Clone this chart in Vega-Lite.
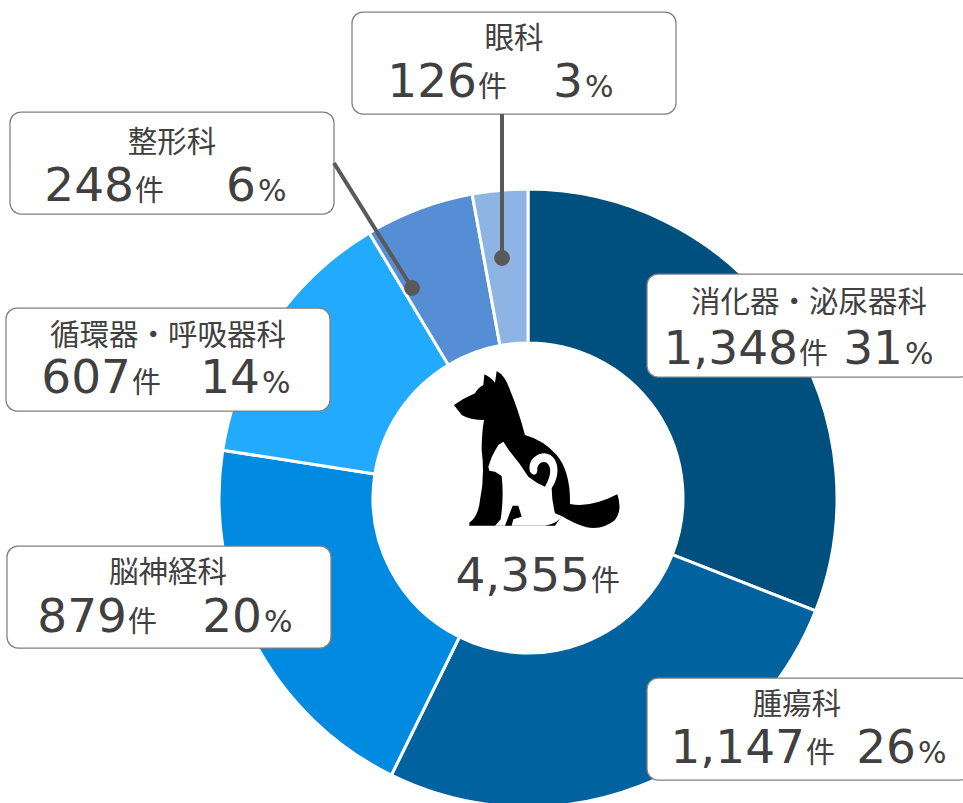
{
"$schema":"https://vega.github.io/schema/vega-lite/v6.json",
"width":963,"height":803,"padding":0,"autosize":{"type":"none"},
"background":"white","view":{"stroke":null},
"datasets":{
"seg":[
{"name":"消化器・泌尿器科","count":1348,"pct":31,"ord":1},
{"name":"腫瘍科","count":1147,"pct":26,"ord":2},
{"name":"脳神経科","count":879,"pct":20,"ord":3},
{"name":"循環器・呼吸器科","count":607,"pct":14,"ord":4},
{"name":"整形科","count":248,"pct":6,"ord":5},
{"name":"眼科","count":126,"pct":3,"ord":6}
],
"lab":[
{"name":"消化器・泌尿器科","count":1348,"pct":31,"bx0":647,"bx1":971,"by0":274,"by1":377,"nx":809,"ny":312,"cx":798,"vy":364,"px":903},
{"name":"腫瘍科","count":1147,"pct":26,"bx0":647,"bx1":971,"by0":678,"by1":780,"nx":797,"ny":714,"cx":805,"vy":763,"px":916},
{"name":"脳神経科","count":879,"pct":20,"bx0":7,"bx1":331,"by0":546,"by1":648,"nx":168,"ny":582,"cx":127,"vy":632,"px":262},
{"name":"循環器・呼吸器科","count":607,"pct":14,"bx0":6,"bx1":330,"by0":308,"by1":411,"nx":168,"ny":345,"cx":131,"vy":393,"px":260},
{"name":"整形科","count":248,"pct":6,"bx0":10,"bx1":334,"by0":112,"by1":214,"nx":172,"ny":152,"cx":134,"vy":201,"px":256},
{"name":"眼科","count":126,"pct":3,"bx0":352,"bx1":676,"by0":12,"by1":114,"nx":514,"ny":48,"cx":477,"vy":97,"px":583}
],
"lead":[
{"name":"整形科","x0":334,"y0":163,"x1":412,"y1":288},
{"name":"眼科","x0":502,"y0":114,"x1":502,"y1":258}
]
},
"encoding":{
"x":{"type":"quantitative","scale":{"domain":[0,963],"nice":false,"zero":false},"axis":null},
"y":{"type":"quantitative","scale":{"domain":[0,803],"nice":false,"zero":false,"reverse":true},"axis":null}
},
"layer":[
{"data":{"name":"seg"},
"mark":{"type":"arc","innerRadius":155,"outerRadius":309,"stroke":"white","strokeWidth":3},
"encoding":{
"x":{"datum":528,"type":"quantitative"},"y":{"datum":498,"type":"quantitative"},
"theta":{"field":"count","type":"quantitative","stack":true},
"order":{"field":"ord"},
"color":{"field":"name","type":"nominal","legend":null,"sort":null,"scale":{"domain":["消化器・泌尿器科","腫瘍科","脳神経科","循環器・呼吸器科","整形科","眼科"],"range":["#00507F","#00629E","#008BE0","#22AAFF","#558ED5","#8EB4E3"]}}
}},
{"data":{"values":[{"k":"dog"}]},
"mark":{"type":"point","filled":true,"fill":"black","strokeWidth":0,"opacity":1,"size":0.4444,"shape":"M72 135 Q100 115 135 100 Q145 82 160 75 L163 43 Q180 50 195 68 L200 33 Q225 45 240 90 Q265 150 285 225 Q340 240 380 285 Q422 335 420 432 Q480 445 562 403 Q578 450 555 480 Q520 510 470 502 Q430 490 395 468 L375 497 L118 497 L118 488 Q145 470 150 420 Q165 350 155 270 Q155 220 162 180 Q120 180 95 165 Z"},
"encoding":{"x":{"datum":430,"type":"quantitative"},"y":{"datum":360,"type":"quantitative"}}},
{"data":{"values":[{"k":"cat"}]},
"mark":{"type":"point","filled":true,"fill":"white","strokeWidth":0,"opacity":1,"size":0.4444,"shape":"M205 255 L220 245 L238 272 Q270 310 295 350 Q320 370 345 380 C365 345 365 320 350 308 C335 300 320 315 322 330 C322 345 310 350 300 335 C292 305 315 280 345 280 C385 285 395 340 365 385 Q365 420 375 460 L395 468 Q385 490 345 497 L195 497 L212 478 Q222 410 215 348 L195 335 L178 332 L175 320 L185 292 L195 272 Z"},
"encoding":{"x":{"datum":430,"type":"quantitative"},"y":{"datum":360,"type":"quantitative"}}},
{"data":{"values":[{"k":"catgap"}]},
"mark":{"type":"point","filled":true,"fill":"black","strokeWidth":0,"opacity":1,"size":0.4444,"shape":"M248 437 L265 437 L275 470 L250 478 L245 497 L225 497 Z"},
"encoding":{"x":{"datum":430,"type":"quantitative"},"y":{"datum":360,"type":"quantitative"}}},
{"data":{"name":"lab"},
"mark":{"type":"rect","fill":"white","stroke":"#7F7F7F","strokeWidth":1.25,"cornerRadius":11},
"encoding":{"x":{"field":"bx0","type":"quantitative"},"x2":{"field":"bx1"},"y":{"field":"by0","type":"quantitative"},"y2":{"field":"by1"}}},
{"data":{"name":"lead"},
"mark":{"type":"rule","color":"#595959","strokeWidth":4},
"encoding":{"x":{"field":"x0","type":"quantitative"},"x2":{"field":"x1"},"y":{"field":"y0","type":"quantitative"},"y2":{"field":"y1"}}},
{"data":{"name":"lead"},
"mark":{"type":"point","filled":true,"color":"#595959","shape":"circle","size":250,"opacity":1},
"encoding":{"x":{"field":"x1","type":"quantitative"},"y":{"field":"y1","type":"quantitative"}}},
{"data":{"name":"lab"},
"mark":{"type":"text","font":"Noto Sans CJK JP","fontSize":29.5,"color":"#404040","align":"center","baseline":"alphabetic"},
"encoding":{"x":{"field":"nx","type":"quantitative"},"y":{"field":"ny","type":"quantitative"},"text":{"field":"name"}}},
{"data":{"name":"lab"},
"mark":{"type":"text","font":"DejaVu Sans","fontSize":47,"color":"#404040","align":"right","baseline":"alphabetic"},
"encoding":{"x":{"field":"cx","type":"quantitative"},"y":{"field":"vy","type":"quantitative"},"text":{"field":"count","type":"quantitative","format":",d"}}},
{"data":{"name":"lab"},
"mark":{"type":"text","font":"Noto Sans CJK JP","fontSize":29,"color":"#404040","align":"left","baseline":"alphabetic","dx":1},
"encoding":{"x":{"field":"cx","type":"quantitative"},"y":{"field":"vy","type":"quantitative"},"text":{"value":"件"}}},
{"data":{"name":"lab"},
"mark":{"type":"text","font":"DejaVu Sans","fontSize":47,"color":"#404040","align":"right","baseline":"alphabetic"},
"encoding":{"x":{"field":"px","type":"quantitative"},"y":{"field":"vy","type":"quantitative"},"text":{"field":"pct","type":"quantitative"}}},
{"data":{"name":"lab"},
"mark":{"type":"text","font":"DejaVu Sans","fontSize":30,"color":"#404040","align":"left","baseline":"alphabetic","dx":2},
"encoding":{"x":{"field":"px","type":"quantitative"},"y":{"field":"vy","type":"quantitative"},"text":{"value":"%"}}},
{"data":{"values":[{"total":4355,"tx":590,"ty":591}]},
"mark":{"type":"text","font":"DejaVu Sans","fontSize":47,"color":"#404040","align":"right","baseline":"alphabetic"},
"encoding":{"x":{"field":"tx","type":"quantitative"},"y":{"field":"ty","type":"quantitative"},"text":{"field":"total","type":"quantitative","format":",d"}}},
{"data":{"values":[{"tx":590,"ty":591}]},
"mark":{"type":"text","font":"Noto Sans CJK JP","fontSize":29,"color":"#404040","align":"left","baseline":"alphabetic","dx":1},
"encoding":{"x":{"field":"tx","type":"quantitative"},"y":{"field":"ty","type":"quantitative"},"text":{"value":"件"}}}
]
}
